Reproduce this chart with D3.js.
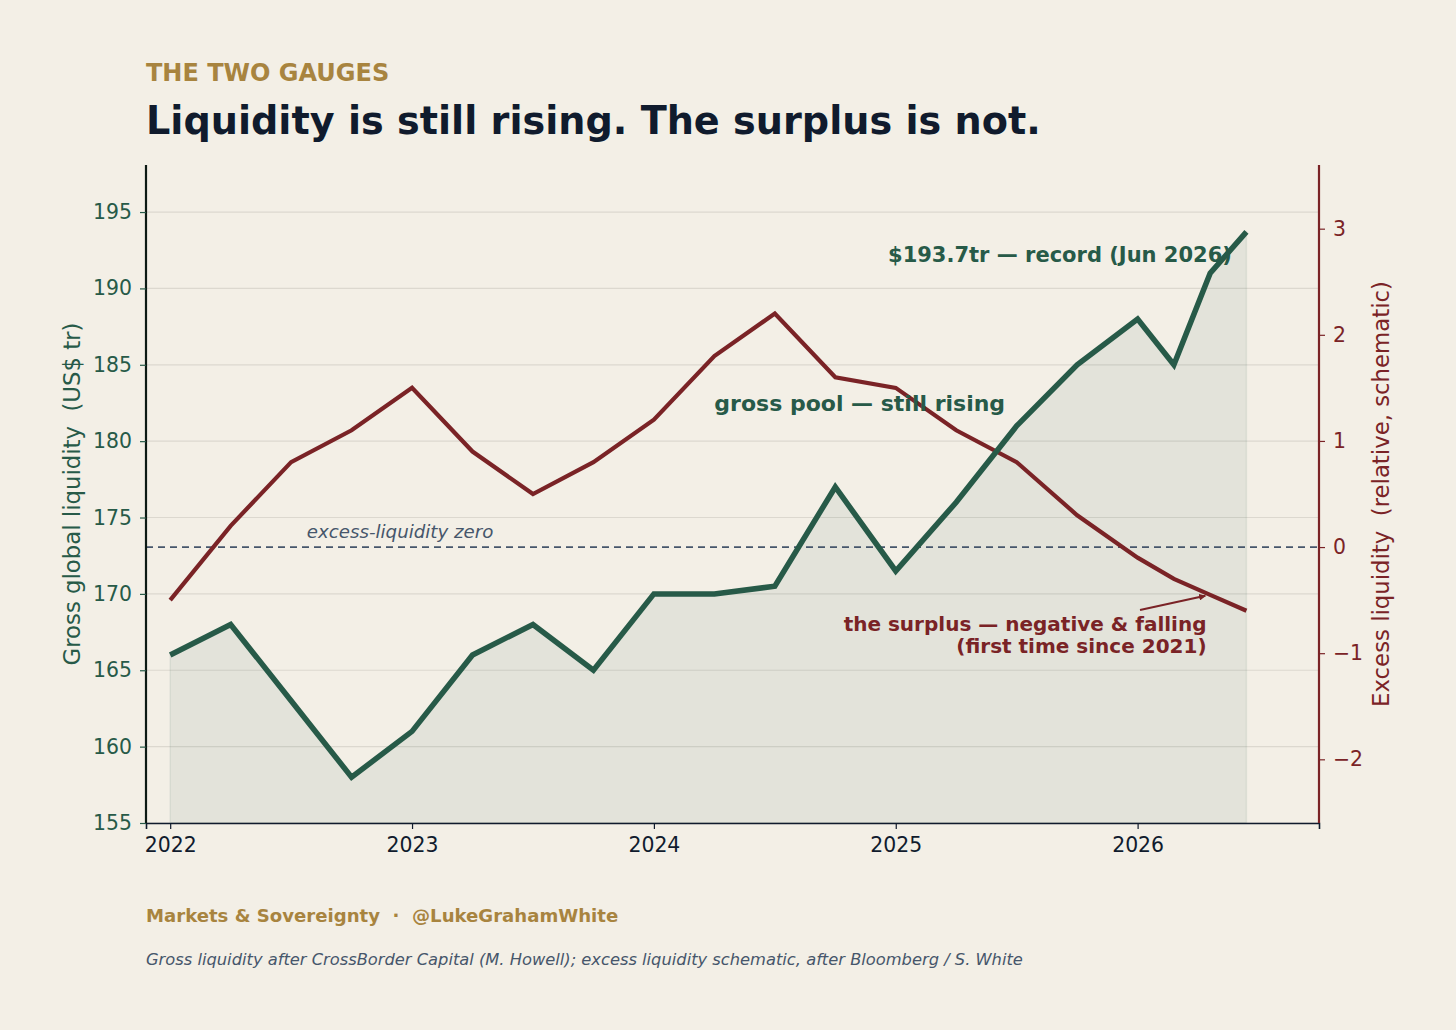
<!DOCTYPE html>
<html>
<head>
<meta charset="utf-8">
<script src="https://cdn.jsdelivr.net/npm/d3@7"></script>
<style>
  html, body { margin: 0; padding: 0; background: #f3efe6; }
  svg { display: block; font-family: "DejaVu Sans", sans-serif; }
</style>
</head>
<body>
<svg id="chart" width="1456" height="1030"></svg>
<script>
// ---- data ----
const dates = [2022, 2022.25, 2022.5, 2022.75, 2023, 2023.25, 2023.5, 2023.75, 2024, 2024.25, 2024.5, 2024.75, 2025, 2025.25, 2025.5, 2025.75, 2026, 2026.15, 2026.3, 2026.45];
const grossLiquidity = [166, 168, 163, 158, 161, 166, 168, 165, 170, 170, 170.5, 177, 171.5, 176, 181, 185, 188, 185, 191, 193.7];
const excessLiquidity = [-0.5, 0.2, 0.8, 1.1, 1.5, 0.9, 0.5, 0.8, 1.2, 1.8, 2.2, 1.6, 1.5, 1.1, 0.8, 0.3, -0.1, -0.3, -0.45, -0.6];
const xTicks = [2022, 2023, 2024, 2025, 2026];
const leftTicks = [155, 160, 165, 170, 175, 180, 185, 190, 195];
const rightTicks = [-2, -1, 0, 1, 2, 3];

const C = {
  bg: "#f3efe6", green: "#275a48", red: "#7a2326", gold: "#a8843f",
  navy: "#101b2d", slate: "#46566b", grid: "#dcd8cf"
};

const M = { left: 146, right: 1319, top: 165, bottom: 823 };
const svg = d3.select("#chart");
svg.append("rect").attr("width", 1456).attr("height", 1030).attr("fill", C.bg);

const x = d3.scaleLinear().domain([2021.9, 2026.75]).range([M.left, M.right]);
const yL = d3.scaleLinear().domain([155, 198.08]).range([M.bottom, M.top]);
const yR = d3.scaleLinear().domain([-2.6, 3.6]).range([M.bottom, M.top]);

// grid
svg.append("g").selectAll("line").data(leftTicks).join("line")
  .attr("x1", M.left).attr("x2", M.right)
  .attr("y1", d => yL(d)).attr("y2", d => yL(d))
  .attr("stroke", C.grid).attr("stroke-width", 1.2);

const pts = dates.map((d, i) => ({ x: d, g: grossLiquidity[i], e: excessLiquidity[i] }));

// area fill
svg.append("path").datum(pts)
  .attr("d", d3.area().x(d => x(d.x)).y0(yL(155)).y1(d => yL(d.g)))
  .attr("fill", C.green).attr("fill-opacity", 0.08)
  .attr("stroke", C.green).attr("stroke-opacity", 0.08).attr("stroke-width", 1.5);

// zero line (right axis)
svg.append("line")
  .attr("x1", M.left).attr("x2", M.right)
  .attr("y1", yR(0)).attr("y2", yR(0))
  .attr("stroke", C.slate).attr("stroke-width", 1.7).attr("stroke-dasharray", "7,5");

svg.append("text").attr("x", x(2022.565)).attr("y", yR(0) - 9)
  .attr("font-size", 18.2).attr("font-style", "italic").attr("fill", C.slate)
  .text("excess-liquidity zero");

// lines
svg.append("path").datum(pts)
  .attr("d", d3.line().x(d => x(d.x)).y(d => yR(d.e)))
  .attr("fill", "none").attr("stroke", C.red).attr("stroke-width", 4.2)
  .attr("stroke-linejoin", "miter");
svg.append("path").datum(pts)
  .attr("d", d3.line().x(d => x(d.x)).y(d => yL(d.g)))
  .attr("fill", "none").attr("stroke", C.green).attr("stroke-width", 5.5)
  .attr("stroke-linejoin", "miter");

// axes
const gx = svg.append("g").attr("transform", `translate(0,${M.bottom})`)
  .call(d3.axisBottom(x).tickValues(xTicks).tickFormat(d3.format("d")).tickSize(6).tickPadding(9));
gx.select(".domain").attr("stroke", C.navy).attr("stroke-width", 1.6);
gx.selectAll(".tick line").attr("stroke", C.navy).attr("stroke-width", 1.2);
gx.selectAll(".tick text").attr("fill", C.navy).attr("font-size", 20.4).attr("font-family", "DejaVu Sans");

const gl = svg.append("g").attr("transform", `translate(${M.left},0)`)
  .call(d3.axisLeft(yL).tickValues(leftTicks).tickSize(6).tickPadding(8));
gl.select(".domain").attr("stroke", "#0c1a14").attr("stroke-width", 2.2)
  .attr("d", `M0,${M.bottom}V${M.top}`);
gl.selectAll(".tick line").attr("stroke", C.green).attr("stroke-width", 1.2);
gl.selectAll(".tick text").attr("fill", C.green).attr("font-size", 20.4).attr("font-family", "DejaVu Sans");

const gr = svg.append("g").attr("transform", `translate(${M.right},0)`)
  .call(d3.axisRight(yR).tickValues(rightTicks).tickSize(6).tickPadding(8)
    .tickFormat(d => d < 0 ? "\u2212" + Math.abs(d) : d));
gr.select(".domain").attr("stroke", C.red).attr("stroke-width", 2.2)
  .attr("d", `M0,${M.bottom}V${M.top}`);
gr.selectAll(".tick line").attr("stroke", C.red).attr("stroke-width", 1.2);
gr.selectAll(".tick text").attr("fill", C.red).attr("font-size", 20.4).attr("font-family", "DejaVu Sans");

// axis titles
svg.append("text")
  .attr("transform", `translate(80,${(M.top + M.bottom) / 2}) rotate(-90)`)
  .attr("text-anchor", "middle").attr("font-size", 22.8).attr("fill", C.green)
  .attr("xml:space", "preserve")
  .text("Gross global liquidity  (US$ tr)");
svg.append("text")
  .attr("transform", `translate(1389,${(M.top + M.bottom) / 2}) rotate(-90)`)
  .attr("text-anchor", "middle").attr("font-size", 22.8).attr("fill", C.red)
  .attr("xml:space", "preserve")
  .text("Excess liquidity  (relative, schematic)");

// annotations
svg.append("text").attr("x", x(2026.39)).attr("y", 262)
  .attr("text-anchor", "end").attr("font-size", 21).attr("font-weight", "bold").attr("fill", C.green)
  .text("$193.7tr \u2014 record (Jun 2026)");
svg.append("text").attr("x", x(2024.25)).attr("y", 411)
  .attr("font-size", 22).attr("font-weight", "bold").attr("fill", C.green)
  .text("gross pool \u2014 still rising");

svg.append("defs").append("marker").attr("id", "arr")
  .attr("viewBox", "0 0 10 10").attr("refX", 9).attr("refY", 5)
  .attr("markerWidth", 7).attr("markerHeight", 7).attr("orient", "auto")
  .attr("markerUnits", "userSpaceOnUse")
  .append("path").attr("d", "M0,0L10,5L0,10z").attr("fill", C.red);
svg.append("line")
  .attr("x1", x(2026.01)).attr("y1", 610)
  .attr("x2", x(2026.28)).attr("y2", yR(-0.45) + 1)
  .attr("stroke", C.red).attr("stroke-width", 2)
  .attr("marker-end", "url(#arr)");
const ann = svg.append("text").attr("font-size", 20).attr("font-weight", "bold").attr("fill", C.red)
  .attr("text-anchor", "end");
ann.append("tspan").attr("x", x(2026.285)).attr("y", 631).text("the surplus \u2014 negative & falling");
ann.append("tspan").attr("x", x(2026.285)).attr("y", 653).text("(first time since 2021)");

// titles
svg.append("text").attr("x", 146).attr("y", 81)
  .attr("font-size", 24).attr("font-weight", "bold").attr("fill", C.gold)
  .text("THE TWO GAUGES");
svg.append("text").attr("x", 146).attr("y", 134)
  .attr("font-size", 38.2).attr("font-weight", "bold").attr("fill", C.navy)
  .text("Liquidity is still rising. The surplus is not.");

// footer
svg.append("text").attr("x", 146).attr("y", 922)
  .attr("font-size", 18.1).attr("font-weight", "bold").attr("fill", C.gold)
  .attr("xml:space", "preserve")
  .text("Markets & Sovereignty  \u00b7  @LukeGrahamWhite");
svg.append("text").attr("x", 146).attr("y", 965)
  .attr("font-size", 16.3).attr("font-style", "italic").attr("fill", C.slate)
  .text("Gross liquidity after CrossBorder Capital (M. Howell); excess liquidity schematic, after Bloomberg / S. White");
</script>
</body>
</html>
